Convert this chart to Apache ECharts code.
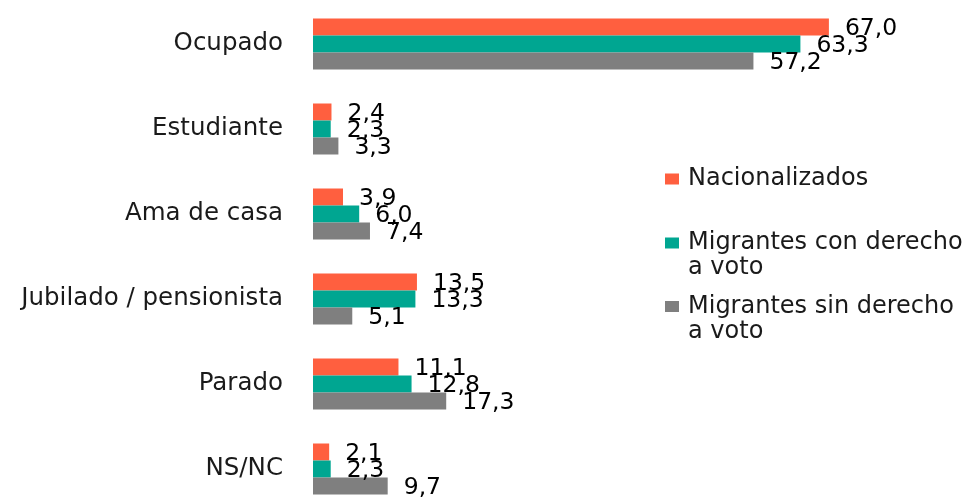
<!DOCTYPE html>
<html>
<head>
<meta charset="utf-8">
<script src="https://cdn.jsdelivr.net/npm/echarts@6/dist/echarts.min.js"></script>
<style>
  html, body { margin: 0; padding: 0; background: #fff; }
  #chart { width: 977px; height: 497px; }
</style>
</head>
<body>
<div id="chart"></div>
<script>
// categories, top to bottom
const categories = ['Ocupado', 'Estudiante', 'Ama de casa', 'Jubilado / pensionista', 'Parado', 'NS/NC'];

const nacionalizados = [67.0, 2.4, 3.9, 13.5, 11.1, 2.1];
const conDerecho = [63.3, 2.3, 6.0, 13.3, 12.8, 2.3];
const sinDerecho = [57.2, 3.3, 7.4, 5.1, 17.3, 9.7];

const seriesNames = ['Nacionalizados', 'Migrantes con derecho\na voto', 'Migrantes sin derecho\na voto'];
const colors = ['#FF5F3F', '#00A691', '#7F7F7F'];

const font = 'DejaVu Sans';

const chart = echarts.init(document.getElementById('chart'));

// etiqueta con coma decimal
const labelFmt = p => p.value.toFixed(1).replace('.', ',');

const makeBar = (name, data, color) => ({
  name: name,
  type: 'bar',
  data: data,
  barWidth: 17,
  barGap: '0%',
  itemStyle: { color: color },
  label: {
    show: true,
    position: 'right',
    distance: 16,
    offset: [0, 2],
    formatter: labelFmt,
    color: '#000',
    fontFamily: font,
    fontSize: 23.5
  }
});

// una leyenda por serie, para poder alinear el icono con la primera linea
// (una linea vacia delante deja la primera linea a la altura del icono)
const makeLegend = (name, top, twoLines) => ({
  data: [name],
  orient: 'vertical',
  left: 665,
  top: top,
  padding: 0,
  icon: 'rect',
  itemWidth: 14,
  itemHeight: 11,
  selectedMode: false,
  formatter: n => (twoLines ? '\n' + n : n),
  textStyle: {
    fontFamily: font,
    fontSize: 24,
    lineHeight: 25,
    color: '#1a1a1a',
    padding: [0, 0, 0, 4]
  }
});

const option = {
  animation: false,
  color: colors,
  legend: [
    makeLegend(seriesNames[0], 166.5, false),
    makeLegend(seriesNames[1], 205.5, true),
    makeLegend(seriesNames[2], 269, true)
  ],
  grid: {
    left: 313,
    top: 1.5,
    width: 616,
    height: 510,
    outerBoundsMode: 'none'
  },
  xAxis: {
    type: 'value',
    min: 0,
    max: 80,
    show: false
  },
  yAxis: {
    type: 'category',
    inverse: true,
    data: categories,
    axisLine: { show: false },
    axisTick: { show: false },
    axisLabel: {
      margin: 30,
      color: '#1a1a1a',
      fontFamily: font,
      fontSize: 24.5
    }
  },
  series: [
    makeBar(seriesNames[0], nacionalizados, colors[0]),
    makeBar(seriesNames[1], conDerecho, colors[1]),
    makeBar(seriesNames[2], sinDerecho, colors[2])
  ]
};

chart.setOption(option);
</script>
</body>
</html>
